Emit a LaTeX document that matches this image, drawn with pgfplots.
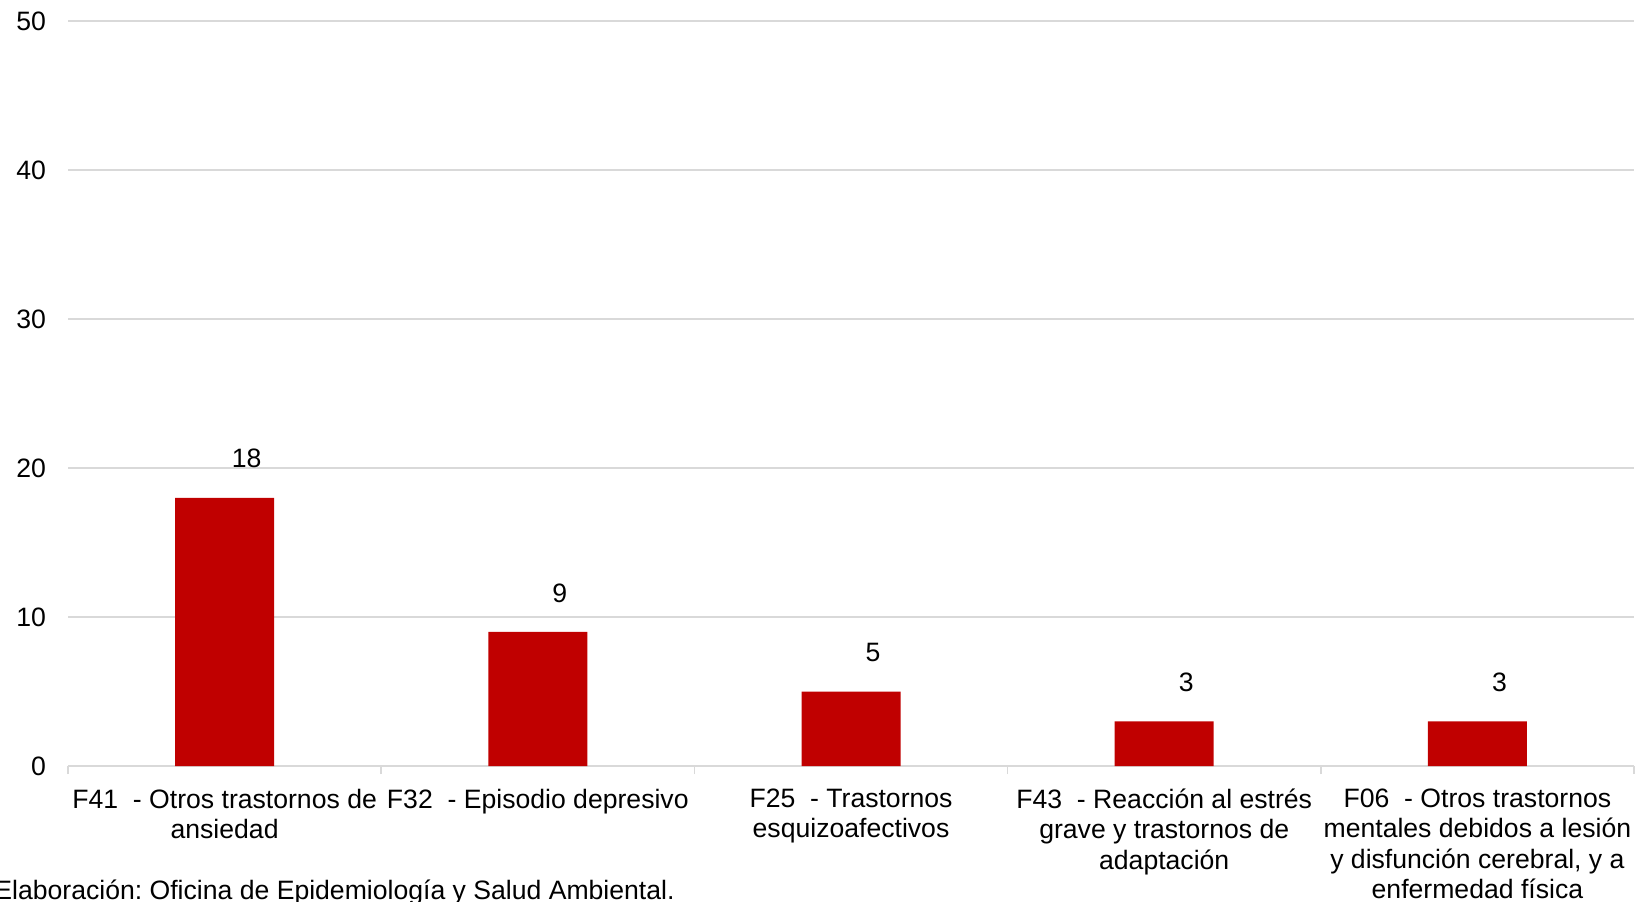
\documentclass[border=0pt]{standalone}
\usepackage{fontspec}
\setmainfont{Liberation Sans}
\usepackage{pgfplots}
\pgfplotsset{compat=1.18}
\definecolor{barred}{HTML}{C00000}
\definecolor{gridgray}{HTML}{D9D9D9}
\frenchspacing
\begin{document}
\begin{tikzpicture}
\begin{axis}[
  at={(34pt,67.5pt)}, anchor=south west,
  scale only axis, width=783pt, height=372.5pt,
  xmin=-0.5, xmax=4.5, ymin=0, ymax=50,
  ytick={0,10,...,50},
  xtick={0,1,2,3,4},
  xticklabels={{F41~~- Otros trastornos de\\ansiedad},
               {F32~~- Episodio depresivo},
               {F25~~- Trastornos\\esquizoafectivos},
               {F43~~- Reacción al estrés\\grave y trastornos de\\adaptación},
               {F06~~- Otros trastornos\\mentales debidos a lesión\\y disfunción cerebral, y a\\enfermedad física}},
  xticklabel style={align=center, font=\fontsize{13.3}{15.1}\selectfont, anchor=north, yshift=-8pt},
  yticklabel style={font=\fontsize{13.3}{15.1}\selectfont, anchor=east, xshift=-7.5pt},
  /pgf/number format/assume math mode=true,
  axis line style={draw=none},
  major tick length=0pt,
  ymajorgrids, grid style={draw=gridgray, line width=0.75pt},
  extra x ticks={-0.5,0.5,1.5,2.5,3.5,4.5},
  extra x tick labels={},
  extra x tick style={grid=none, major tick length=4pt, tick align=outside,
     tick style={draw=gridgray, line width=0.75pt}},
  xtick pos=bottom, ytick pos=left,
  clip=false,
]
\addplot[ybar, fill=barred, draw=none, bar width=49.5pt,
  nodes near coords,
  every node near coord/.append style={font=\fontsize{13.3}{15.1}\selectfont, text=black, anchor=center, yshift=19.5pt, xshift=11pt}]
  coordinates {(0,18) (1,9) (2,5) (3,3) (4,3)};
\end{axis}
\node[anchor=west, font=\fontsize{13.3}{15.1}\selectfont, inner sep=0pt] at (-3pt,4.5pt) {Elaboración: Oficina de Epidemiología y Salud Ambiental.};
\pgfresetboundingbox
\useasboundingbox (0,0) rectangle (818pt,450.5pt);
\end{tikzpicture}
\end{document}
